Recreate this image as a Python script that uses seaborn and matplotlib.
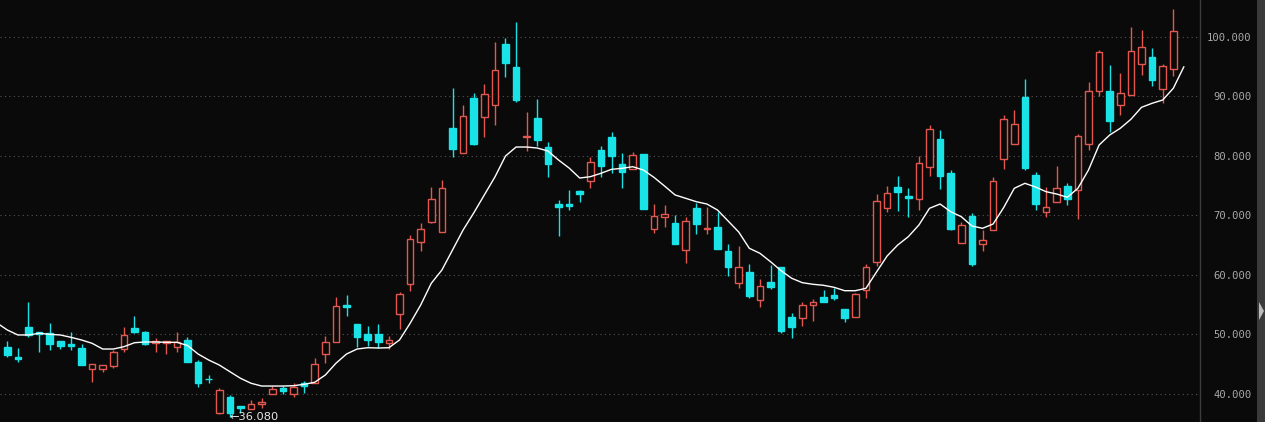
import numpy as np
import pandas as pd
import matplotlib
matplotlib.use("Agg")
import matplotlib.pyplot as plt
import seaborn as sns
from matplotlib.patches import Rectangle, Polygon

# ---- data ----
opens = [47.90, 46.20, 51.26, 50.47, 50.19, 48.91, 48.35, 47.68, 44.15, 44.15,
         44.76, 47.56, 51.09, 50.42, 48.52, 48.52, 47.95, 49.13, 45.43, 42.60,
         36.75, 39.55, 37.98, 37.53, 38.32, 40.06, 41.00, 40.06, 41.80, 41.80,
         46.72, 48.80, 55.00, 51.76, 50.08, 50.00, 48.52, 53.39, 58.44, 65.55,
         68.90, 67.28, 84.71, 80.57, 89.75, 86.50, 88.52, 98.82, 94.96, 83.14,
         86.39, 81.51, 71.93, 71.87, 74.12, 75.75, 80.99, 83.19, 78.69, 77.76,
         80.33, 67.68, 69.69, 68.69, 64.15, 71.26, 67.73, 68.07, 63.98, 58.60,
         60.50, 55.75, 58.82, 61.34, 52.94, 52.82, 55.01, 56.30, 56.64, 54.29,
         52.99, 57.48, 62.13, 71.29, 74.87, 73.28, 72.72, 78.13, 82.89, 77.09,
         65.43, 69.92, 65.15, 67.56, 79.53, 82.05, 89.92, 76.84, 70.53, 72.21,
         74.90, 74.23, 81.96, 90.92, 90.92, 88.52, 90.20, 95.41, 96.60, 91.21,
         94.57]
highs = [48.91, 47.68, 55.46, 50.47, 51.98, 48.91, 50.42, 48.35, 45.04, 44.87,
         47.39, 51.31, 53.10, 50.59, 49.36, 48.96, 50.47, 49.53, 45.66, 43.19,
         40.95, 39.83, 37.98, 38.99, 39.27, 41.34, 41.34, 41.80, 42.24, 46.05,
         49.80, 56.36, 56.64, 51.76, 51.43, 51.80, 49.80, 57.20, 66.72, 68.69,
         74.80, 75.90, 91.43, 88.52, 90.53, 92.10, 99.10, 99.89, 102.60, 87.34,
         89.58, 82.30, 72.60, 74.29, 74.29, 79.88, 81.70, 83.98, 80.45, 80.73,
         80.33, 71.87, 71.70, 70.03, 69.80, 72.15, 71.38, 70.53, 65.21, 64.87,
         61.85, 59.33, 61.63, 61.34, 53.56, 55.41, 55.97, 57.48, 57.87, 54.29,
         57.03, 61.85, 73.65, 75.04, 76.67, 74.62, 80.03, 85.29, 84.40, 77.65,
         68.96, 70.37, 67.56, 76.40, 86.97, 87.73, 92.86, 77.37, 74.73, 78.32,
         75.40, 83.64, 92.38, 97.82, 95.24, 93.90, 101.63, 101.10, 98.10, 95.46,
         104.66]
lows = [46.27, 45.43, 49.53, 47.10, 47.39, 47.50, 47.39, 44.93, 42.07, 43.64,
        44.31, 47.11, 50.20, 48.20, 47.11, 46.78, 47.11, 45.32, 41.12, 41.80,
        36.64, 36.08, 36.86, 37.40, 37.60, 40.06, 39.95, 39.44, 40.23, 41.80,
        45.26, 48.80, 53.10, 47.95, 48.12, 47.80, 47.56, 50.87, 57.37, 64.10,
        68.69, 67.28, 79.88, 80.57, 81.90, 83.14, 85.26, 93.22, 89.02, 80.89,
        81.73, 76.42, 66.60, 70.92, 72.32, 74.56, 76.52, 77.08, 74.56, 77.76,
        71.09, 67.11, 68.12, 65.21, 61.97, 66.94, 66.94, 64.42, 59.88, 57.87,
        56.19, 54.68, 57.59, 50.30, 49.36, 51.48, 52.32, 55.51, 55.85, 52.15,
        52.99, 56.13, 61.57, 70.56, 70.73, 69.80, 70.96, 76.67, 74.50, 67.56,
        65.32, 61.51, 64.08, 67.56, 77.85, 81.96, 77.65, 70.92, 69.70, 72.21,
        71.70, 69.36, 80.95, 90.14, 83.98, 86.84, 90.20, 93.56, 91.71, 88.86,
        93.50]
closes = [46.55, 45.95, 49.92, 50.08, 48.46, 48.12, 48.12, 44.93, 45.04, 44.87,
          47.00, 49.92, 50.42, 48.35, 48.91, 48.96, 48.74, 45.32, 41.90, 42.45,
          40.67, 36.86, 37.60, 38.27, 38.60, 40.84, 40.44, 41.23, 41.34, 45.04,
          48.80, 54.79, 54.57, 49.53, 49.02, 48.80, 49.02, 56.81, 66.00, 67.68,
          72.72, 74.56, 81.23, 86.67, 82.02, 90.37, 94.40, 95.70, 89.47, 83.41,
          82.74, 78.60, 71.38, 71.65, 73.67, 79.00, 78.24, 80.05, 77.25, 80.11,
          71.09, 69.96, 70.19, 65.21, 69.02, 68.63, 67.96, 64.42, 61.40, 61.34,
          56.47, 58.15, 58.04, 50.59, 51.31, 54.90, 55.41, 55.51, 56.13, 52.72,
          56.75, 61.29, 72.47, 73.81, 73.98, 72.89, 78.86, 84.57, 76.61, 67.68,
          68.40, 61.90, 65.82, 75.73, 86.25, 85.40, 77.93, 71.90, 71.38, 74.56,
          72.72, 83.36, 90.87, 97.43, 85.83, 90.53, 97.60, 98.27, 92.69, 95.07,
          101.05]
# moving-average line, positions 0..112 (one point before the first candle, one after the last)
ma_line = [51.97, 50.76, 49.92, 49.92, 50.20, 50.03, 49.92, 49.53, 49.08, 48.52,
           47.56, 47.56, 47.95, 48.62, 48.74, 48.74, 48.69, 48.69, 48.15, 46.72,
           45.71, 44.87, 43.75, 42.64, 41.80, 41.34, 41.34, 41.34, 41.39, 41.63,
           41.97, 43.19, 45.16, 46.72, 47.56, 47.78, 47.73, 47.78, 49.08, 51.88,
           54.96, 58.61, 60.84, 64.20, 67.56, 70.42, 73.45, 76.47, 80.00, 81.51,
           81.51, 81.34, 80.84, 79.33, 77.98, 76.30, 76.52, 77.09, 77.76, 77.93,
           78.20, 77.65, 76.42, 74.96, 73.45, 72.89, 72.32, 71.93, 70.92, 69.08,
           67.23, 64.49, 63.65, 62.24, 60.72, 59.45, 58.71, 58.44, 58.27, 57.93,
           57.36, 57.36, 57.76, 60.50, 63.19, 65.04, 66.44, 68.40, 71.21, 71.93,
           70.64, 69.80, 68.24, 67.85, 68.57, 71.34, 74.57, 75.41, 74.79, 74.00,
           73.61, 73.06, 74.57, 77.65, 81.85, 83.53, 84.66, 86.17, 88.18, 88.86,
           89.41, 91.38, 95.01]
y_ticks = [40, 50, 60, 70, 80, 90, 100]
low_label = "←36.080"

# ---- style ----
BG = "#0a0a0a"
UP = "#e2574f"
DOWN = "#19e3e6"
GRID = "#555555"

sns.set_style("dark")
plt.rcParams["font.family"] = ["DejaVu Sans"]

W, H = 1265, 422
fig = plt.figure(figsize=(W / 100, H / 100), dpi=100, facecolor=BG)
ax = fig.add_axes([0, 0, 1200 / W, 1])
ax.set_facecolor(BG)

df = pd.DataFrame({"o": opens, "h": highs, "l": lows, "c": closes})
df["x"] = np.arange(1, len(df) + 1)
df["up"] = df["c"] >= df["o"]
df["top"] = df[["o", "c"]].max(axis=1)
df["bot"] = df[["o", "c"]].min(axis=1)

bw = 0.64
for up, sub in df.groupby("up"):
    col = UP if up else DOWN
    # wicks (outside of body)
    ax.vlines(sub["x"], sub["top"], sub["h"], color=col, lw=1.0, zorder=2)
    ax.vlines(sub["x"], sub["l"], sub["bot"], color=col, lw=1.0, zorder=2)
    heights = np.maximum(sub["top"] - sub["bot"], 0.08)
    ax.bar(sub["x"], heights, bottom=sub["bot"], width=bw,
           facecolor=(BG if up else col), edgecolor=col, linewidth=1.0, zorder=3)

ma_df = pd.DataFrame({"x": np.arange(0, len(ma_line)), "ma": ma_line})
sns.lineplot(data=ma_df, x="x", y="ma", ax=ax, color="white", lw=1.0, zorder=4)

x_left = 1 - 7.3 / 10.6
x_right = 1 + (1200 - 7.3) / 10.6
ax.set_xlim(x_left, x_right)
ax.set_ylim(40 - 28 / 5.95, 40 + 394 / 5.95)

# grid
for v in y_ticks:
    ax.axhline(v, color=GRID, lw=0.8, ls=(0, (1, 3)), zorder=1)

ax.set_xticks([])
ax.set_xlabel("")
ax.set_ylabel("")
ax.yaxis.tick_right()
ax.set_yticks(y_ticks)
ax.set_yticklabels([f"{v:.3f}" for v in y_ticks], family="DejaVu Sans Mono",
                   fontsize=7.6, color="#a8a8a8")
for lab in ax.get_yticklabels():
    lab.set_horizontalalignment("right")
ax.tick_params(axis="y", length=0, pad=37)
ax.grid(False)
for s in ["top", "left", "bottom"]:
    ax.spines[s].set_visible(False)
ax.spines["right"].set_color("#3c3c3c")
ax.spines["right"].set_linewidth(1.0)

# lowest-price annotation
ax.text(22 - 0.05, 36.08, low_label, color="#e8e8e8", fontsize=8.2,
        va="center", ha="left", zorder=5)

# right-edge strip with marker
fig.patches.append(Rectangle((1257 / W, 0), 8 / W, 1, transform=fig.transFigure,
                             facecolor="#3a3a3a", edgecolor="none"))
fig.patches.append(Polygon([(1259 / W, 1 - 302 / H), (1264 / W, 1 - 311 / H),
                            (1259 / W, 1 - 320 / H)], closed=True,
                           transform=fig.transFigure, facecolor="#bdbdbd",
                           edgecolor="none"))

fig.savefig("out.png", dpi=100, facecolor=BG)
